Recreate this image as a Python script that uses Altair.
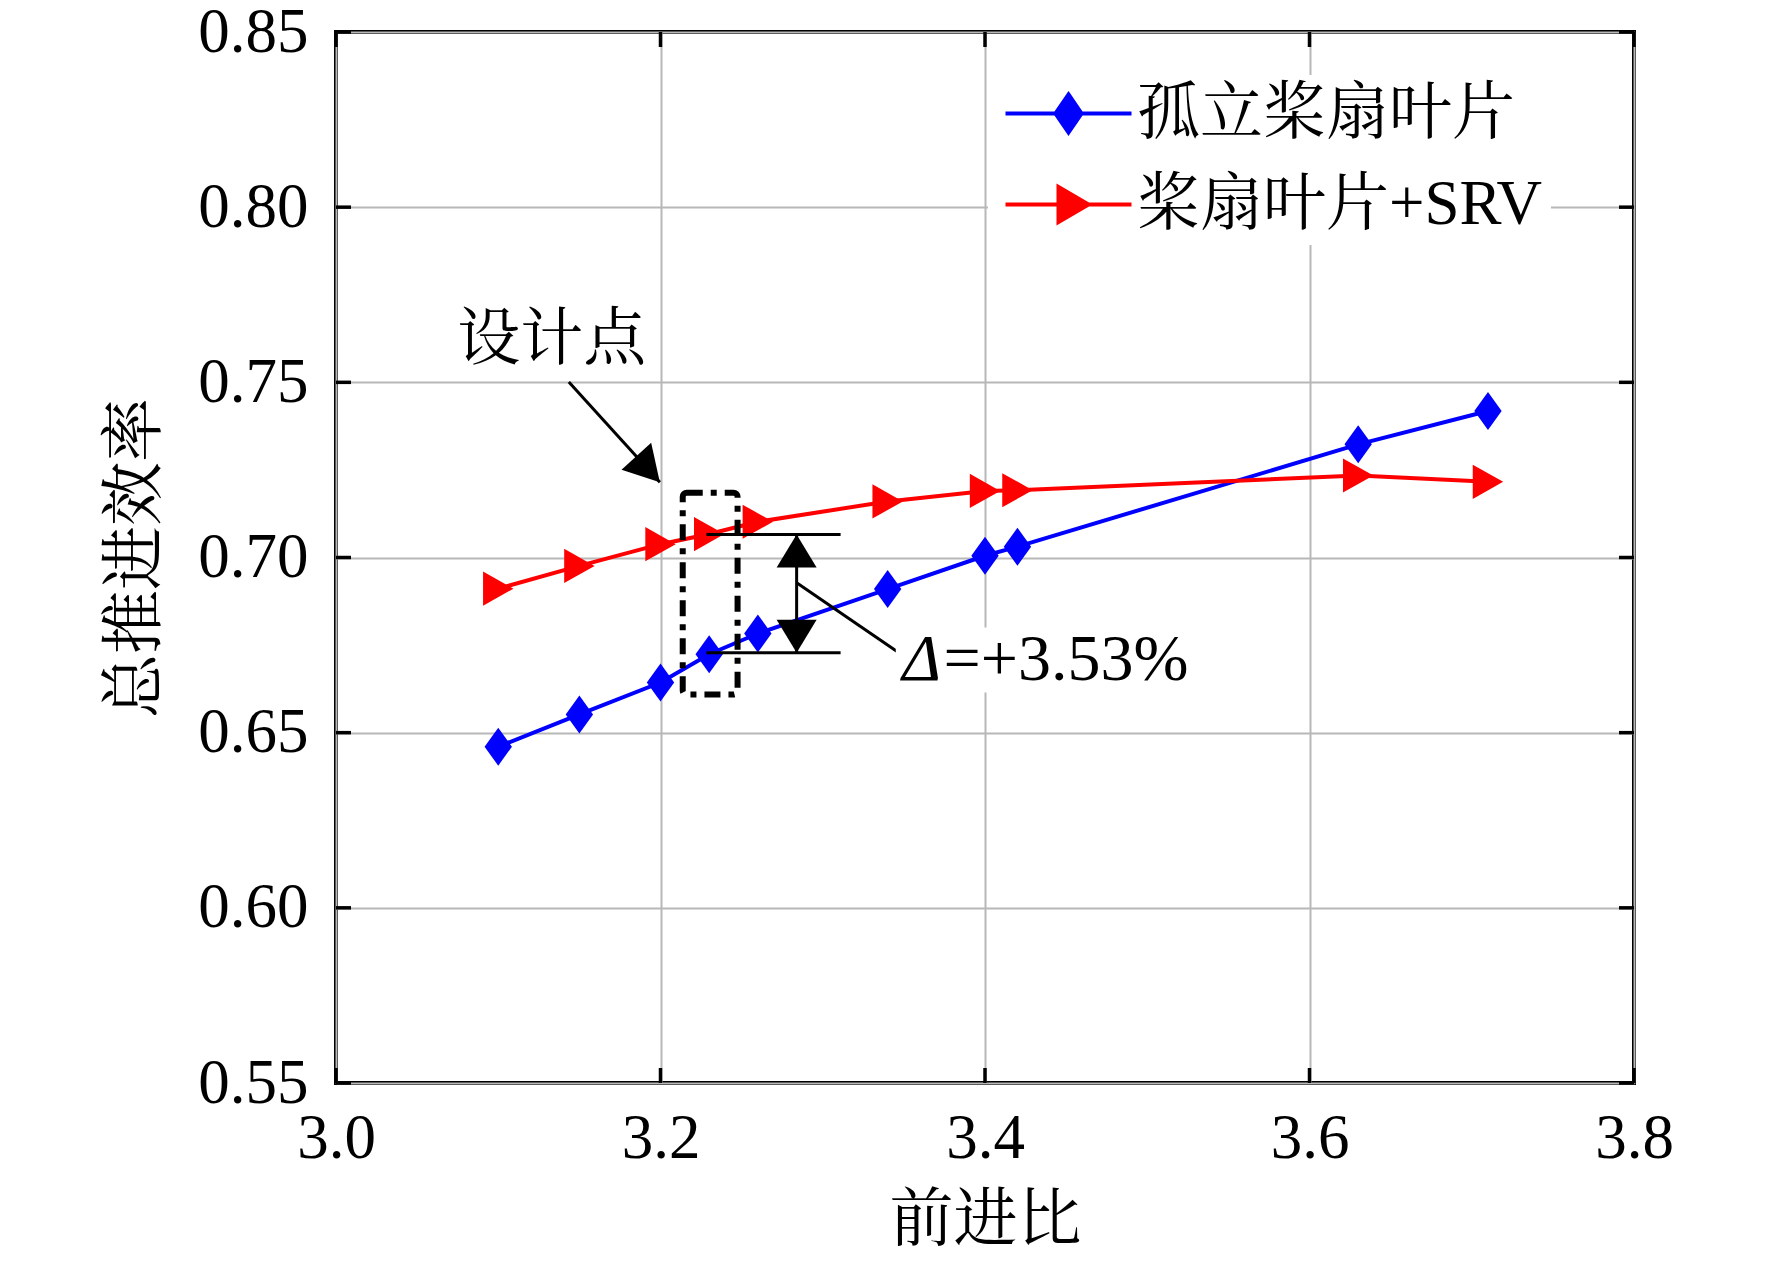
import altair as alt
import pandas as pd

# ---------------- data ----------------
J = [3.10, 3.15, 3.20, 3.23, 3.26, 3.34, 3.40, 3.42, 3.63, 3.71]
ETA_ISO = [0.6460, 0.6552, 0.6643, 0.6724, 0.6783, 0.6910, 0.7005, 0.7031, 0.7323, 0.7418]
ETA_SRV = [0.6911, 0.6976, 0.7038, 0.7067, 0.7102, 0.7160, 0.7190, 0.7192, 0.7234, 0.7216]
SERIES = ["孤立桨扇叶片", "桨扇叶片+SRV"]
COLORS = ["#0000ff", "#ff0000"]

X_TICKS = [3.0, 3.2, 3.4, 3.6, 3.8]
Y_TICKS = [0.55, 0.60, 0.65, 0.70, 0.75, 0.80, 0.85]
X_TITLE = "前进比"
Y_TITLE = "总推进效率"

# annotations (data coordinates)
DESIGN_TEXT = ["设计点"]
DESIGN_TEXT_X = [3.133]
DESIGN_TEXT_Y = [0.762]
DESIGN_ARROW_X = [3.1435, 3.1996]
DESIGN_ARROW_Y = [0.7501, 0.7215]
BOX_X = [3.2137]
BOX_X2 = [3.2475]
BOX_Y = [0.6609]
BOX_Y2 = [0.7185]
REF_X = [3.2283, 3.2283]
REF_X2 = [3.311, 3.311]
REF_Y = [0.7066, 0.6728]
DARROW_X = [3.2839]
LEADER_X = [3.2839, 3.353]
LEADER_Y = [0.6928, 0.6709]
DELTA_SYMBOL = ["Δ"]
DELTA_REST = ["=+3.53%"]
DELTA_X = [3.349]
DELTA_REST_X = [3.3744]
DELTA_Y = [0.6706]
DELTA_BG_X = [3.345]
DELTA_BG_X2 = [3.527]
DELTA_BG_Y = [0.6615]
DELTA_BG_Y2 = [0.6800]

# ---------------- styles ----------------
FONT = "Liberation Serif, 'Noto Serif CJK SC', 'Noto Sans CJK SC', serif"
W, H = 1298, 1051
FS = 63

DIAMOND = "M0,-1L0.72,0L0,1L-0.72,0Z"
TRI_RIGHT = "M-0.8,-0.9L0.8,0L-0.8,0.9Z"
LEG_PATHS = [
    "M-1.05,0L5.25,0M2.1,-0.95L2.75,0L2.1,0.95L1.45,0Z",
    "M-1.05,0L5.25,0M1.6,-0.88L3.1,0L1.6,0.88Z",
]
HEAD_DESIGN = "M0,0L-1.75,-1L-1.75,1Z"
HEAD_DOUBLE = "M0,0L-1.65,-1L-1.65,1Z"

xs = alt.Scale(domain=[3.0, 3.8], nice=False, zero=False)
ys = alt.Scale(domain=[0.55, 0.85], nice=False, zero=False)

x_axis = alt.Axis(values=X_TICKS, format=".1f", title=X_TITLE, grid=True,
                  labelPadding=24, titlePadding=18, labelFlush=False, labelOverlap=False)
y_axis = alt.Axis(values=Y_TICKS, format=".2f", title=Y_TITLE, grid=True,
                  labelPadding=28, titlePadding=30, labelFlush=False, labelOverlap=False)


def X(field):
    return alt.X(field, scale=xs, axis=x_axis)


def Y(field):
    return alt.Y(field, scale=ys, axis=y_axis)


df = pd.DataFrame({
    "J": J + J,
    "eta": ETA_ISO + ETA_SRV,
    "series": [SERIES[0]] * len(J) + [SERIES[1]] * len(J),
})
base = alt.Chart(df)

line_iso = base.transform_filter(alt.datum.series == SERIES[0]).mark_line(
    color=COLORS[0], strokeWidth=4).encode(x=X("J:Q"), y=Y("eta:Q"))
pts_iso = base.transform_filter(alt.datum.series == SERIES[0]).mark_point(
    filled=True, opacity=1, size=1444, shape=DIAMOND, color=COLORS[0]).encode(
    x=X("J:Q"), y=Y("eta:Q"))
line_srv = base.transform_filter(alt.datum.series == SERIES[1]).mark_line(
    color=COLORS[1], strokeWidth=4).encode(x=X("J:Q"), y=Y("eta:Q"))
pts_srv = base.transform_filter(alt.datum.series == SERIES[1]).mark_point(
    filled=True, opacity=1, size=1444, shape=TRI_RIGHT, color=COLORS[1]).encode(
    x=X("J:Q"), y=Y("eta:Q"))

leg = alt.Legend(orient="none", legendX=652, legendY=43, title=None,
                 labelFont=FONT, labelFontSize=FS, labelColor="black",
                 labelLimit=0, labelOffset=79, symbolSize=1600,
                 symbolStrokeWidth=4, symbolOpacity=1, rowPadding=27,
                 fillColor="white", padding=7, strokeColor="white")
legend_layer = base.mark_point(filled=True, opacity=0).encode(
    x=X("J:Q"), y=Y("eta:Q"),
    fill=alt.Fill("series:N", scale=alt.Scale(domain=SERIES, range=COLORS), legend=leg),
    stroke=alt.Stroke("series:N", scale=alt.Scale(domain=SERIES, range=COLORS), legend=leg),
    shape=alt.Shape("series:N", scale=alt.Scale(domain=SERIES, range=LEG_PATHS), legend=leg),
)

# ---- annotations ----
design_text = alt.Chart(pd.DataFrame({"t": DESIGN_TEXT, "x": DESIGN_TEXT_X, "y": DESIGN_TEXT_Y})).mark_text(
    font=FONT, fontSize=FS, color="black", align="center", baseline="middle").encode(
    x=X("x:Q"), y=Y("y:Q"), text="t:N")

darrow_df = pd.DataFrame({"x": DESIGN_ARROW_X, "y": DESIGN_ARROW_Y, "o": [0, 1]})
design_line = alt.Chart(darrow_df).mark_line(color="black", strokeWidth=3).encode(
    x=X("x:Q"), y=Y("y:Q"), order="o:O")
design_head = alt.Chart(darrow_df.iloc[[1]]).mark_point(
    filled=True, color="black", opacity=1, size=1600, shape=HEAD_DESIGN, angle=47.8).encode(
    x=X("x:Q"), y=Y("y:Q"))

box = alt.Chart(pd.DataFrame({"x": BOX_X, "x2": BOX_X2, "y": BOX_Y, "y2": BOX_Y2})).mark_rect(
    filled=False, stroke="black", strokeWidth=6, strokeDash=[16, 8, 6, 8], cornerRadius=4).encode(
    x=X("x:Q"), x2="x2:Q", y=Y("y:Q"), y2="y2:Q")

ref_lines = alt.Chart(pd.DataFrame({"x": REF_X, "x2": REF_X2, "y": REF_Y})).mark_rule(
    color="black", strokeWidth=3).encode(x=X("x:Q"), x2="x2:Q", y=Y("y:Q"))

shaft = alt.Chart(pd.DataFrame({"x": DARROW_X, "y": [REF_Y[1]], "y2": [REF_Y[0]]})).mark_rule(
    color="black", strokeWidth=3).encode(x=X("x:Q"), y=Y("y:Q"), y2="y2:Q")

heads_df = pd.DataFrame({"x": DARROW_X * 2, "y": REF_Y, "a": [270, 90]})
dheads = alt.Chart(heads_df).mark_point(
    filled=True, color="black", opacity=1, size=1600, shape=HEAD_DOUBLE).encode(
    x=X("x:Q"), y=Y("y:Q"), angle=alt.Angle("a:Q", scale=None))

leader = alt.Chart(pd.DataFrame({"x": LEADER_X, "y": LEADER_Y, "o": [0, 1]})).mark_line(
    color="black", strokeWidth=3).encode(x=X("x:Q"), y=Y("y:Q"), order="o:O")

delta_bg = alt.Chart(pd.DataFrame({"x": DELTA_BG_X, "x2": DELTA_BG_X2, "y": DELTA_BG_Y, "y2": DELTA_BG_Y2})).mark_rect(
    color="white").encode(x=X("x:Q"), x2="x2:Q", y=Y("y:Q"), y2="y2:Q")

delta_sym = alt.Chart(pd.DataFrame({"t": DELTA_SYMBOL, "x": DELTA_X, "y": DELTA_Y})).mark_text(
    font=FONT, fontSize=66, fontStyle="italic", color="black", align="left", baseline="middle").encode(
    x=X("x:Q"), y=Y("y:Q"), text="t:N")
delta_rest = alt.Chart(pd.DataFrame({"t": DELTA_REST, "x": DELTA_REST_X, "y": DELTA_Y})).mark_text(
    font=FONT, fontSize=66, color="black", align="left", baseline="middle").encode(
    x=X("x:Q"), y=Y("y:Q"), text="t:N")

# ---- inward ticks ----
TL = 15
xt = pd.DataFrame({"v": X_TICKS})
yt = pd.DataFrame({"v": Y_TICKS})
tick_b = alt.Chart(xt).mark_rule(color="black", strokeWidth=3.5).encode(
    x=X("v:Q"), y=alt.value(H), y2=alt.value(H - TL))
tick_t = alt.Chart(xt).mark_rule(color="black", strokeWidth=3.5).encode(
    x=X("v:Q"), y=alt.value(0), y2=alt.value(TL))
tick_l = alt.Chart(yt).mark_rule(color="black", strokeWidth=3.5).encode(
    y=Y("v:Q"), x=alt.value(0), x2=alt.value(TL))
tick_r = alt.Chart(yt).mark_rule(color="black", strokeWidth=3.5).encode(
    y=Y("v:Q"), x=alt.value(W), x2=alt.value(W - TL))

chart = alt.layer(
    line_iso, pts_iso, line_srv, pts_srv,
    design_line, design_head, box, ref_lines, shaft, dheads, leader,
    delta_bg, delta_sym, delta_rest, design_text,
    tick_b, tick_t, tick_l, tick_r,
    legend_layer,
).properties(
    width=W, height=H,
    autosize=alt.AutoSizeParams(type="none"),
    padding={"left": 328, "top": 24, "right": 130, "bottom": 170},
    background="white",
).configure_view(
    stroke="black", strokeWidth=4,
).configure_axis(
    domain=False, ticks=False, grid=True, gridColor="#b8b8b8", gridWidth=2,
    labelFont=FONT, labelFontSize=FS, labelColor="black",
    titleFont=FONT, titleFontSize=64, titleFontWeight="normal", titleColor="black",
)

chart.save("out.html", embed_options={"renderer": "svg", "actions": False})
